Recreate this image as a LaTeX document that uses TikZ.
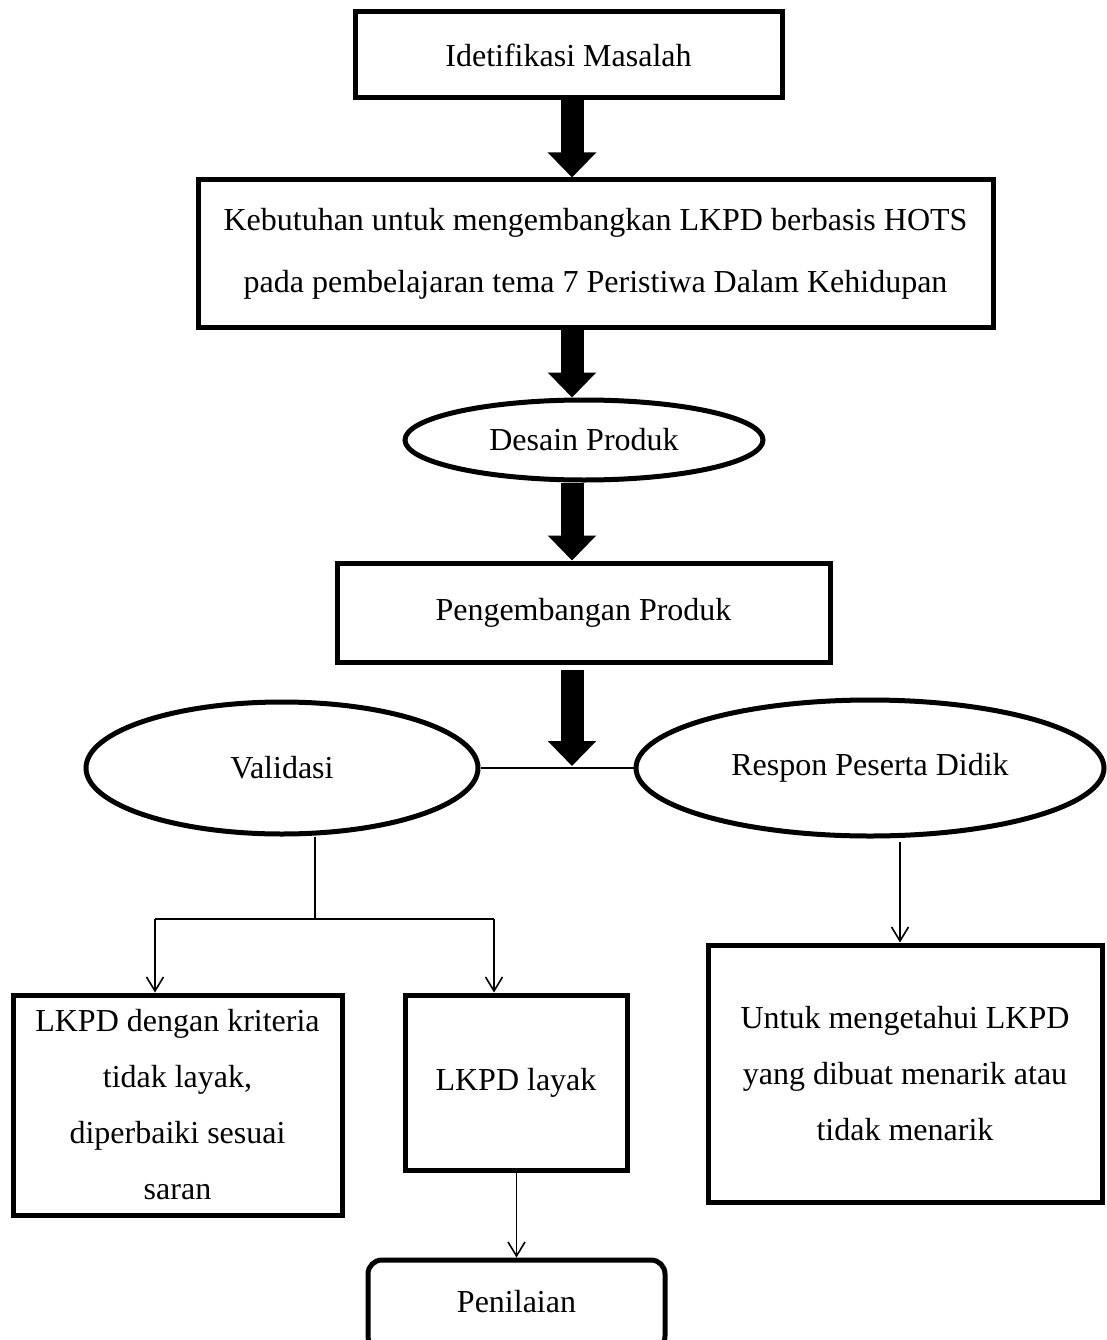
\documentclass[tikz,border=0pt]{standalone}
\usepackage{fontspec}
\setmainfont{Liberation Serif}
\usetikzlibrary{arrows.meta,shapes.geometric,calc}
\begin{document}
\begin{tikzpicture}[x=1pt,y=-1pt,
  txt/.style={align=center,font=\fontsize{32}{56}\selectfont,inner sep=0pt},
  boxed/.style={txt,draw,line width=5pt,rectangle},
  oval/.style={txt,draw,line width=5pt,ellipse},
  rbox/.style={txt,draw,line width=5pt,rectangle,rounded corners=14pt},
  bigarrow/.style={line width=23pt,-{Triangle[width=47pt,length=25pt]}},
  thinarrow/.style={line width=1.6pt,-{Straight Barb[length=14pt,width=17pt,line width=1.6pt]}},
  thinline/.style={line width=1.6pt}
]
\useasboundingbox (0,0) rectangle (1106,1340);

% main column
\node[boxed,minimum width=427pt,minimum height=86pt] (idm) at (568.5,55) {Idetifikasi Masalah};
\node[boxed,minimum width=795pt,minimum height=147pt,font=\fontsize{32}{62}\selectfont] (keb) at (595.5,253.5)
  {Kebutuhan untuk mengembangkan LKPD berbasis HOTS\\pada pembelajaran tema 7 Peristiwa Dalam Kehidupan};
\node[oval,minimum width=358pt,minimum height=80pt] (des) at (584,440) {Desain Produk};
\node[boxed,minimum width=493pt,minimum height=99pt] (peng) at (583.5,612.5) {Pengembangan Produk};

% evaluation branches
\node[oval,minimum width=392pt,minimum height=132pt] (val) at (282,768) {Validasi};
\node[oval,minimum width=468pt,minimum height=136pt] (res) at (870,768) {Respon Peserta Didik};

\node[boxed,minimum width=329pt,minimum height=220pt] (tl) at (177.5,1105)
  {LKPD dengan kriteria\\tidak layak,\\diperbaiki sesuai\\saran};
\node[boxed,minimum width=222pt,minimum height=175pt] (ly) at (516,1082.5) {LKPD layak};
\node[boxed,minimum width=394pt,minimum height=257pt] (utk) at (905,1073.5)
  {Untuk mengetahui LKPD\\yang dibuat menarik atau\\tidak menarik};
\node[rbox,minimum width=297pt,minimum height=90pt] (pen) at (516.5,1305) {\raisebox{8pt}{Penilaian}};

% thick arrows down the main column
\coordinate (ax) at (572,0);
\draw[bigarrow] (idm.south -| ax) -- (keb.north -| ax);
\draw[bigarrow] (keb.south -| ax) -- (des.north -| ax);
\draw[bigarrow] (des.south -| ax) -- (peng.north -| ax);
\draw[bigarrow] ($(peng.south -| ax)+(0,5)$) -- ($(val.east -| ax)+(0,-2)$);

% link between the two ovals
\draw[thinline] (val.east) -- (res.west);

% split below Validasi
\coordinate (vb) at (315,919);
\coordinate (vl) at (155,919);
\coordinate (vr) at (494,919);
\draw[thinline] (val.south -| vb) -- (vb);
\draw[thinline] (vl) -- (vr);
\draw[thinarrow] (vl) -- (vl |- tl.north);
\draw[thinarrow] (vr) -- (vr |- ly.north);

% Respon to its box
\coordinate (ra) at (900,842);
\draw[thinarrow] (ra) -- (ra |- utk.north);

% LKPD layak to Penilaian
\draw[thinarrow] (ly.south -| pen.north) -- (pen.north);
\end{tikzpicture}
\end{document}
